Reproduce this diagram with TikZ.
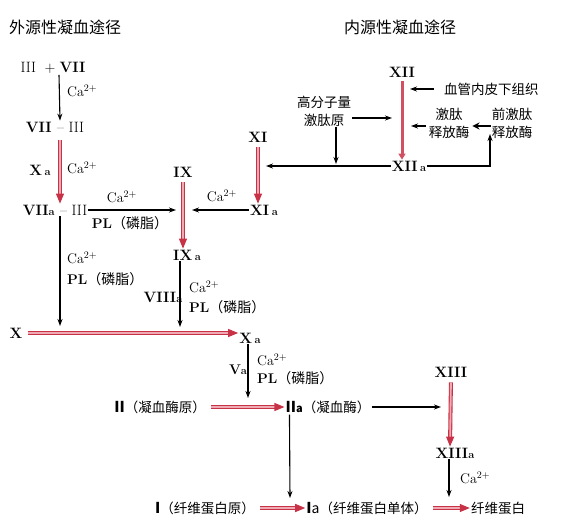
\documentclass[tikz,border=0pt]{standalone}
\usepackage{fontspec}
\usepackage{xcolor}
\usepackage{tikz}
\usetikzlibrary{arrows.meta}
\newfontfamily\cjk{Noto Sans CJK SC}
\definecolor{bloodred}{RGB}{200,50,70}
\definecolor{bloodpink}{RGB}{240,170,180}
\newcommand\fa{{\fontsize{11}{11}\selectfont\bfseries a}}

\begin{document}
\begin{tikzpicture}[x=1pt,y=-1pt,
    fac/.style={inner sep=1pt,font=\fontsize{15}{15}\selectfont\bfseries},
    cn/.style={inner sep=1pt,font=\fontsize{13.5}{18}\selectfont\cjk,align=center},
    lab/.style={inner sep=1pt,anchor=west,font=\fontsize{14}{14}\selectfont},
    blk/.style={line width=1.1pt,-{Stealth[length=7pt,width=5pt]}},
    redarr/.style={draw=bloodred,double=bloodpink,double distance=1.8pt,
      line width=1.1pt,shorten <=4pt,-{Triangle[length=10pt,width=8pt]}}]
  \useasboundingbox (0,0) rectangle (570,525);
  % titles
  \node[cn,anchor=west,font=\fontsize{16}{16}\selectfont\cjk] (extT) at (8,27) {外源性凝血途径};
  \node[cn,font=\fontsize{16}{16}\selectfont\cjk] (intT) at (400,27) {内源性凝血途径};
  % extrinsic pathway
  \node[fac] (iii7) at (53,68) {\mdseries III \;+\;\bfseries VII};
  \node[fac] (v7iii) at (55,127) {VII \mdseries -- III};
  \node[fac] (v7aiii) at (55,210) {VII\fa\ \mdseries -- III};
  \draw[blk] ([xshift=6pt]iii7.south) -- ([xshift=5pt]v7iii.north);
  \node[lab] (ca1) at (66,91) {Ca$^{2+}$};
  \draw[redarr,shorten <=7pt] ([xshift=5pt]v7iii.south) -- ([xshift=5pt]v7aiii.north);
  \node[fac] (xa1) at (40,170) {X\,\fa};
  \node[lab] (ca2) at (66,168) {Ca$^{2+}$};
  % IX
  \node[fac] (ix) at (183,172) {IX};
  \node[fac] (ixa) at (187,255) {IX\,\fa};
  \draw[redarr] (ix.south) -- ([xshift=-4pt]ixa.north);
  \coordinate (ixL) at (176,210);
  \coordinate (ixR) at (192,210);
  \draw[blk] (v7aiii.east) -- (ixL);
  \node[lab,anchor=center] (ca3) at (122,197) {Ca$^{2+}$};
  \node[lab,anchor=center] (pl1) at (130,223) {\textbf{PL}{\cjk （磷脂）}};
  % VIIa-III down to X
  \coordinate (xl1) at (60,326);
  \draw[blk] ([xshift=5pt]v7aiii.south) -- (xl1);
  \node[lab] (ca4) at (66,258) {Ca$^{2+}$};
  \node[lab] (pl2) at (66,279) {\textbf{PL}{\cjk （磷脂）}};
  % IXa down to X
  \coordinate (xl2) at (180,327);
  \draw[blk] ([xshift=-7pt]ixa.south) -- (xl2);
  \node[fac] (v8a) at (163,297) {VIII\fa};
  \node[lab] (ca5) at (188,287) {Ca$^{2+}$};
  \node[lab] (pl3) at (188,307) {\textbf{PL}{\cjk （磷脂）}};
  % XI
  \node[fac] (xi) at (258,137) {XI};
  \node[fac] (xia) at (264,210) {XI\,\fa};
  \draw[redarr] (xi.south) -- ([xshift=-6pt]xia.north);
  \draw[blk] (xia.west) -- (ixR);
  \node[lab,anchor=center] (ca6) at (222,196) {Ca$^{2+}$};
  % intrinsic pathway
  \node[fac] (xii) at (402,72) {XII};
  \node[fac] (xiia) at (409,166) {XII\,\fa};
  \draw[bloodred!85,line width=3pt,shorten <=3pt,-{Triangle[length=6pt,width=7pt]}]
    (xii.south) -- ([xshift=-7pt]xiia.north);
  \coordinate (xiL) at (266,166);
  \draw[blk] (xiia.west) -- (xiL);
  \node[cn] (hmwk) at (324,111) {高分子量\\激肽原};
  \coordinate (xiiL) at (392,118);
  \draw[blk] ([yshift=-7pt]hmwk.east) -- (xiiL);
  \coordinate (hmL) at (336,164);
  \draw[blk] ([xshift=12pt]hmwk.south) -- (hmL);
  \node[cn,anchor=west] (endo) at (443,89) {血管内皮下组织};
  \coordinate (xiiR1) at (410,89);
  \draw[blk] ([xshift=-9pt]endo.west) -- (xiiR1);
  \node[cn] (kal) at (449,123) {激肽\\释放酶};
  \coordinate (xiiR2) at (411,126);
  \draw[blk] ([yshift=-3pt,xshift=-2pt]kal.west) -- (xiiR2);
  \node[cn] (prek) at (512,123) {前激肽\\释放酶};
  \draw[line width=2.4pt,-{Stealth[length=7pt,width=7pt]}]
    ([yshift=-3pt]prek.west) -- ([yshift=-3pt,xshift=2pt]kal.east);
  \coordinate (kalR) at (490,134);
  \draw[blk] (xiia.east) -| (kalR);
  % common pathway
  \node[fac] (xf) at (16,333) {X};
  \node[fac] (xa) at (250,338) {X\,\fa};
  \draw[redarr] (xf.east) -- (xf.east -| xa.west);
  \coordinate (iiL) at (248,398);
  \draw[blk] ([xshift=-2pt]xa.south) -- (iiL);
  \node[lab,anchor=center] (va) at (238,370) {\textbf{V}\fa};
  \node[lab] (ca7) at (256,360) {Ca$^{2+}$};
  \node[lab] (pl4) at (256,378) {\textbf{PL}{\cjk （磷脂）}};
  \node[cn] (ii) at (160,407) {\textbf{\fontsize{15}{15}\selectfont II}（凝血酶原）};
  \node[cn] (iia) at (328,407) {\textbf{\fontsize{15}{15}\selectfont II}\fa{\cjk （凝血酶）}};
  \draw[redarr] (ii.east) -- (iia.west);
  \coordinate (xiiiL) at (441,407);
  \draw[blk] (iia.east) -- (xiiiL);
  \node[fac] (xiii) at (451,372) {XIII};
  \node[fac] (xiiia) at (455,453) {XIII\fa};
  \draw[redarr] (xiii.south) -- ([xshift=-5pt]xiiia.north);
  \coordinate (fbL) at (449,497);
  \draw[blk] ([xshift=-6pt]xiiia.south) -- (fbL);
  \node[lab] (ca8) at (459,478) {Ca$^{2+}$};
  \coordinate (iaL) at (290,498);
  \draw[blk] ([xshift=5pt]iia.south west) -- (iaL);
  % fibrin row
  \node[cn] (fbg) at (205,508) {\textbf{\fontsize{15}{15}\selectfont I}（纤维蛋白原）};
  \node[cn] (fbm) at (367,508) {\textbf{\fontsize{15}{15}\selectfont I}{\fontsize{14}{14}\selectfont a}（纤维蛋白单体）};
  \node[cn] (fb) at (498,508) {纤维蛋白};
  \draw[redarr] (fbg.east) -- (fbm.west);
  \draw[redarr] (fbm.east) -- (fb.west);
\end{tikzpicture}
\end{document}
